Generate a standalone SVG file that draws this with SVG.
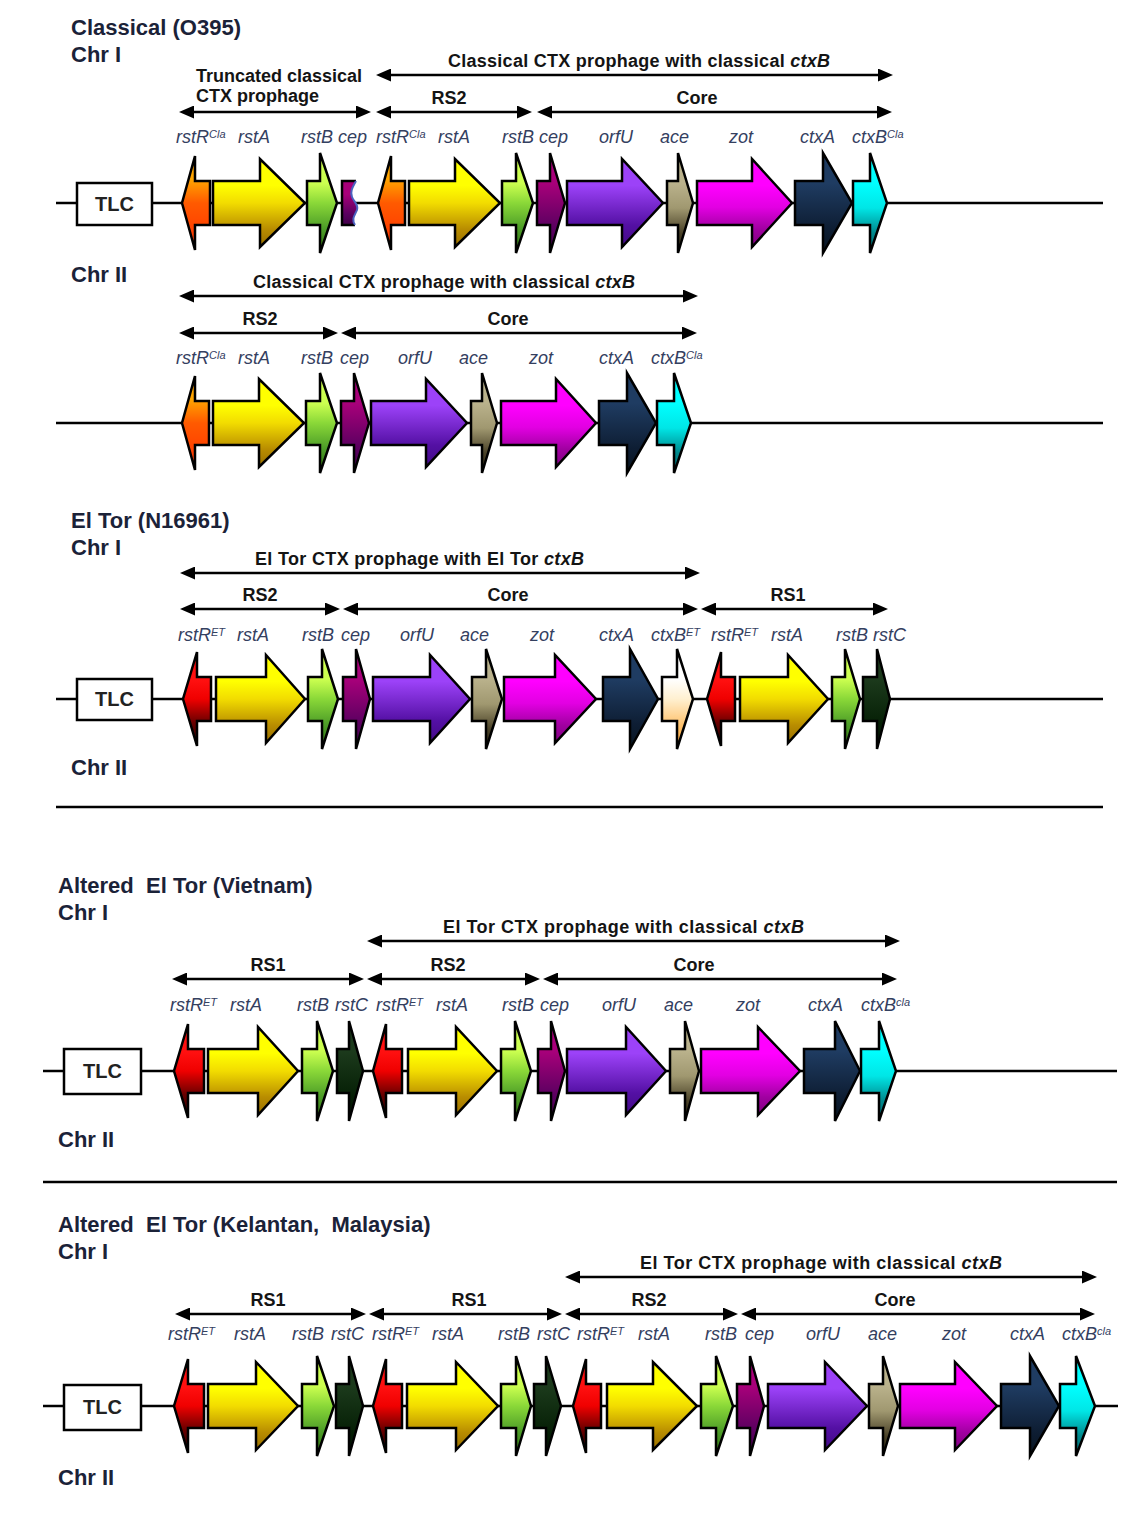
<svg xmlns="http://www.w3.org/2000/svg" width="1143" height="1516" viewBox="0 0 1143 1516">
<defs>
<style>
text{font-family:"Liberation Sans",Arial,sans-serif}
.t{font-weight:bold;font-size:22px;fill:#1b2238}
.r{font-weight:bold;font-size:18px;fill:#141414;text-anchor:middle}
.rl{font-weight:bold;font-size:18px;fill:#141414}
.g{font-style:italic;font-size:18px;fill:#34405f}
.s{font-size:11px}
.tlc{font-weight:bold;font-size:20px;fill:#222;text-anchor:middle}
.ln{stroke:#000;stroke-width:2.5;fill:none}
.sp{stroke:#000;stroke-width:2.5;fill:none;marker-start:url(#ah);marker-end:url(#ah)}
.gene path{stroke:#000;stroke-width:2.5;stroke-linejoin:miter}
.box{fill:#fff;stroke:#000;stroke-width:2.5}
.orR{fill:url(#gOr)}.red{fill:url(#gRed)}.yel{fill:url(#gYel)}.grn{fill:url(#gGrn)}
.cep{fill:url(#gCep)}.orf{fill:url(#gOrf)}.ace{fill:url(#gAce)}.zot{fill:url(#gZot)}
.cta{fill:url(#gCta)}.ctb{fill:url(#gCtb)}.cte{fill:url(#gCte)}.rsc{fill:url(#gRsc)}
</style>
<marker id="ah" viewBox="0 0 15 13" refX="7" refY="6.5" markerWidth="15" markerHeight="13" markerUnits="userSpaceOnUse" orient="auto-start-reverse">
<path d="M0,0L15,6.5L0,13Z" fill="#000"/>
</marker>
<linearGradient id="gOr" x1="0" y1="0" x2="0" y2="1"><stop offset="0.25" stop-color="#ffa400"/><stop offset="0.5" stop-color="#ff5a00"/><stop offset="1" stop-color="#ff3000"/></linearGradient>
<linearGradient id="gRed" x1="0" y1="0" x2="0" y2="1"><stop offset="0.3" stop-color="#ff1010"/><stop offset="0.5" stop-color="#f00000"/><stop offset="0.75" stop-color="#6a0000"/><stop offset="1" stop-color="#200000"/></linearGradient>
<linearGradient id="gYel" x1="0" y1="0" x2="0" y2="1"><stop offset="0.3" stop-color="#ffff00"/><stop offset="0.5" stop-color="#f2dc00"/><stop offset="0.8" stop-color="#b88c00"/><stop offset="1" stop-color="#9a7000"/></linearGradient>
<linearGradient id="gGrn" x1="0" y1="0" x2="0" y2="1"><stop offset="0.3" stop-color="#ccff50"/><stop offset="0.5" stop-color="#8ad838"/><stop offset="0.75" stop-color="#4e9e28"/><stop offset="1" stop-color="#2e7010"/></linearGradient>
<linearGradient id="gCep" x1="0" y1="0" x2="0" y2="1"><stop offset="0.3" stop-color="#a8007a"/><stop offset="0.75" stop-color="#5a0060"/><stop offset="1" stop-color="#400048"/></linearGradient>
<linearGradient id="gOrf" x1="0" y1="0" x2="0" y2="1"><stop offset="0.3" stop-color="#9c42f8"/><stop offset="0.75" stop-color="#5410a4"/><stop offset="1" stop-color="#420a86"/></linearGradient>
<linearGradient id="gAce" x1="0" y1="0" x2="0" y2="1"><stop offset="0.3" stop-color="#bab28c"/><stop offset="0.55" stop-color="#a09870"/><stop offset="0.8" stop-color="#4a4228"/><stop offset="1" stop-color="#2a2410"/></linearGradient>
<linearGradient id="gZot" x1="0" y1="0" x2="0" y2="1"><stop offset="0.3" stop-color="#ff00ff"/><stop offset="0.55" stop-color="#e200e2"/><stop offset="0.8" stop-color="#a000a0"/><stop offset="1" stop-color="#800080"/></linearGradient>
<linearGradient id="gCta" x1="0" y1="0" x2="0" y2="1"><stop offset="0.3" stop-color="#1f3c62"/><stop offset="0.75" stop-color="#0e1e34"/><stop offset="1" stop-color="#081420"/></linearGradient>
<linearGradient id="gCtb" x1="0" y1="0" x2="0" y2="1"><stop offset="0.3" stop-color="#00ffff"/><stop offset="0.55" stop-color="#00e6e6"/><stop offset="0.8" stop-color="#00888c"/><stop offset="1" stop-color="#006a70"/></linearGradient>
<linearGradient id="gCte" x1="0" y1="0" x2="0" y2="1"><stop offset="0.3" stop-color="#ffffff"/><stop offset="0.5" stop-color="#fff0d0"/><stop offset="0.8" stop-color="#ffbc60"/><stop offset="1" stop-color="#ffa840"/></linearGradient>
<linearGradient id="gRsc" x1="0" y1="0" x2="0" y2="1"><stop offset="0.3" stop-color="#1c3a1c"/><stop offset="0.75" stop-color="#062006"/><stop offset="1" stop-color="#001000"/></linearGradient>
</defs>
<rect width="1143" height="1516" fill="#fff"/>

<!-- ======= titles ======= -->
<g id="titles">
<text class="t" x="71" y="35" xml:space="preserve">Classical (O395)</text>
<text class="t" x="71" y="62">Chr I</text>
<text class="t" x="71" y="282">Chr II</text>
<text class="t" x="71" y="528">El Tor (N16961)</text>
<text class="t" x="71" y="555">Chr I</text>
<text class="t" x="71" y="775">Chr II</text>
<text class="t" x="58" y="893" xml:space="preserve">Altered  El Tor (Vietnam)</text>
<text class="t" x="58" y="920">Chr I</text>
<text class="t" x="58" y="1147">Chr II</text>
<text class="t" x="58" y="1232" xml:space="preserve">Altered  El Tor (Kelantan,  Malaysia)</text>
<text class="t" x="58" y="1259">Chr I</text>
<text class="t" x="58" y="1485">Chr II</text>
</g>

<!-- ======= connectors: genome lines, separators, span arrows ======= -->
<g id="connectors">
<path class="ln" d="M56,203H1103M56,423H1103M56,699H1103M43,1071H1117M43,1406H1118"/>
<path class="ln" d="M56,807H1103M43,1182H1117"/>
<line class="sp" x1="384" y1="75" x2="885" y2="75"/>
<line class="sp" x1="187" y1="112" x2="363" y2="112"/>
<line class="sp" x1="384" y1="112" x2="524" y2="112"/>
<line class="sp" x1="545" y1="112" x2="884" y2="112"/>
<line class="sp" x1="187" y1="296" x2="690" y2="296"/>
<line class="sp" x1="187" y1="333" x2="330" y2="333"/>
<line class="sp" x1="349" y1="333" x2="689" y2="333"/>
<line class="sp" x1="188" y1="573" x2="692" y2="573"/>
<line class="sp" x1="188" y1="609" x2="332" y2="609"/>
<line class="sp" x1="351" y1="609" x2="690" y2="609"/>
<line class="sp" x1="709" y1="609" x2="880" y2="609"/>
<line class="sp" x1="375" y1="941" x2="892" y2="941"/>
<line class="sp" x1="180" y1="979" x2="356" y2="979"/>
<line class="sp" x1="375" y1="979" x2="532" y2="979"/>
<line class="sp" x1="551" y1="979" x2="889" y2="979"/>
<line class="sp" x1="573" y1="1277" x2="1089" y2="1277"/>
<line class="sp" x1="183" y1="1314" x2="358" y2="1314"/>
<line class="sp" x1="377" y1="1314" x2="554" y2="1314"/>
<line class="sp" x1="573" y1="1314" x2="730" y2="1314"/>
<line class="sp" x1="749" y1="1314" x2="1087" y2="1314"/>
</g>

<!-- ======= span labels ======= -->
<g id="span-labels">
<text class="rl" x="448" y="67" textLength="382">Classical CTX prophage with classical <tspan font-style="italic">ctxB</tspan></text>
<text class="rl" x="196" y="82">Truncated classical</text>
<text class="rl" x="196" y="102">CTX prophage</text>
<text class="r" x="449" y="104">RS2</text>
<text class="r" x="697" y="104">Core</text>
<text class="rl" x="253" y="288" textLength="382">Classical CTX prophage with classical <tspan font-style="italic">ctxB</tspan></text>
<text class="r" x="260" y="325">RS2</text>
<text class="r" x="508" y="325">Core</text>
<text class="rl" x="255" y="565" textLength="329">El Tor CTX prophage with El Tor <tspan font-style="italic">ctxB</tspan></text>
<text class="r" x="260" y="601">RS2</text>
<text class="r" x="508" y="601">Core</text>
<text class="r" x="788" y="601">RS1</text>
<text class="rl" x="443" y="933" textLength="361">El Tor CTX prophage with classical <tspan font-style="italic">ctxB</tspan></text>
<text class="r" x="268" y="971">RS1</text>
<text class="r" x="448" y="971">RS2</text>
<text class="r" x="694" y="971">Core</text>
<text class="rl" x="640" y="1269" textLength="362">El Tor CTX prophage with classical <tspan font-style="italic">ctxB</tspan></text>
<text class="r" x="268" y="1306">RS1</text>
<text class="r" x="469" y="1306">RS1</text>
<text class="r" x="649" y="1306">RS2</text>
<text class="r" x="895" y="1306">Core</text>
</g>

<!-- ======= gene labels ======= -->
<g id="gene-labels">
<text class="g" x="176" y="143">rstR<tspan class="s" dy="-5">Cla</tspan></text>
<text class="g" x="238" y="143">rstA</text>
<text class="g" x="301" y="143">rstB</text>
<text class="g" x="338" y="143">cep</text>
<text class="g" x="376" y="143">rstR<tspan class="s" dy="-5">Cla</tspan></text>
<text class="g" x="438" y="143">rstA</text>
<text class="g" x="502" y="143">rstB</text>
<text class="g" x="539" y="143">cep</text>
<text class="g" x="599" y="143">orfU</text>
<text class="g" x="660" y="143">ace</text>
<text class="g" x="729" y="143">zot</text>
<text class="g" x="800" y="143">ctxA</text>
<text class="g" x="852" y="143">ctxB<tspan class="s" dy="-5">Cla</tspan></text>

<text class="g" x="176" y="364">rstR<tspan class="s" dy="-5">Cla</tspan></text>
<text class="g" x="238" y="364">rstA</text>
<text class="g" x="301" y="364">rstB</text>
<text class="g" x="340" y="364">cep</text>
<text class="g" x="398" y="364">orfU</text>
<text class="g" x="459" y="364">ace</text>
<text class="g" x="529" y="364">zot</text>
<text class="g" x="599" y="364">ctxA</text>
<text class="g" x="651" y="364">ctxB<tspan class="s" dy="-5">Cla</tspan></text>

<text class="g" x="178" y="641">rstR<tspan class="s" dy="-5">ET</tspan></text>
<text class="g" x="237" y="641">rstA</text>
<text class="g" x="302" y="641">rstB</text>
<text class="g" x="341" y="641">cep</text>
<text class="g" x="400" y="641">orfU</text>
<text class="g" x="460" y="641">ace</text>
<text class="g" x="530" y="641">zot</text>
<text class="g" x="599" y="641">ctxA</text>
<text class="g" x="651" y="641">ctxB<tspan class="s" dy="-5">ET</tspan></text>
<text class="g" x="711" y="641">rstR<tspan class="s" dy="-5">ET</tspan></text>
<text class="g" x="771" y="641">rstA</text>
<text class="g" x="836" y="641">rstB</text>
<text class="g" x="873" y="641">rstC</text>

<text class="g" x="170" y="1011">rstR<tspan class="s" dy="-5">ET</tspan></text>
<text class="g" x="230" y="1011">rstA</text>
<text class="g" x="297" y="1011">rstB</text>
<text class="g" x="335" y="1011">rstC</text>
<text class="g" x="376" y="1011">rstR<tspan class="s" dy="-5">ET</tspan></text>
<text class="g" x="436" y="1011">rstA</text>
<text class="g" x="502" y="1011">rstB</text>
<text class="g" x="540" y="1011">cep</text>
<text class="g" x="602" y="1011">orfU</text>
<text class="g" x="664" y="1011">ace</text>
<text class="g" x="736" y="1011">zot</text>
<text class="g" x="808" y="1011">ctxA</text>
<text class="g" x="861" y="1011">ctxB<tspan class="s" dy="-5">cla</tspan></text>

<text class="g" x="168" y="1340">rstR<tspan class="s" dy="-5">ET</tspan></text>
<text class="g" x="234" y="1340">rstA</text>
<text class="g" x="292" y="1340">rstB</text>
<text class="g" x="331" y="1340">rstC</text>
<text class="g" x="372" y="1340">rstR<tspan class="s" dy="-5">ET</tspan></text>
<text class="g" x="432" y="1340">rstA</text>
<text class="g" x="498" y="1340">rstB</text>
<text class="g" x="537" y="1340">rstC</text>
<text class="g" x="577" y="1340">rstR<tspan class="s" dy="-5">ET</tspan></text>
<text class="g" x="638" y="1340">rstA</text>
<text class="g" x="705" y="1340">rstB</text>
<text class="g" x="745" y="1340">cep</text>
<text class="g" x="806" y="1340">orfU</text>
<text class="g" x="868" y="1340">ace</text>
<text class="g" x="942" y="1340">zot</text>
<text class="g" x="1010" y="1340">ctxA</text>
<text class="g" x="1062" y="1340">ctxB<tspan class="s" dy="-5">cla</tspan></text>
</g>

<!-- ======= TLC boxes ======= -->
<g id="tlc1"><rect class="box" x="77" y="183" width="75" height="42"/><text class="tlc" x="114.5" y="211">TLC</text></g>
<g id="tlc2"><rect class="box" x="77" y="679" width="75" height="41"/><text class="tlc" x="114.5" y="706">TLC</text></g>
<g id="tlc3"><rect class="box" x="64" y="1049" width="77" height="45"/><text class="tlc" x="102.5" y="1078">TLC</text></g>
<g id="tlc4"><rect class="box" x="64" y="1385" width="77" height="45"/><text class="tlc" x="102.5" y="1414">TLC</text></g>

<!-- ======= genes: Classical Chr I ======= -->
<g id="c1-rstR" class="gene"><path class="orR" d="M210,181H195V156L182,203L195,250V225H210Z"/></g>
<g id="c1-rstA" class="gene"><path class="yel" d="M213,181H260V159L305,203L260,247V225H213Z"/></g>
<g id="c1-rstB" class="gene"><path class="grn" d="M307,181H320V153L337,203L320,253V225H307Z"/></g>
<g id="c1-cep-trunc"><path class="cep" d="M342,181H356C352,188 350,192 352,197C354,202 359,205 357,210C355,215 351,219 355,225H342Z"/><path d="M356,181H342V225H355" fill="none" stroke="#000" stroke-width="2.5"/><path d="M356,181C352,188 350,192 352,197C354,202 359,205 357,210C355,215 351,219 355,225" fill="none" stroke="#4a62c0" stroke-width="2"/></g>
<g id="c1-rstR2" class="gene"><path class="orR" d="M405,181H391V156L378,203L391,250V225H405Z"/></g>
<g id="c1-rstA2" class="gene"><path class="yel" d="M409,181H455V159L500,203L455,247V225H409Z"/></g>
<g id="c1-rstB2" class="gene"><path class="grn" d="M502,181H516V153L533,203L516,253V225H502Z"/></g>
<g id="c1-cep" class="gene"><path class="cep" d="M537,181H550V153L565,203L550,253V225H537Z"/></g>
<g id="c1-orfU" class="gene"><path class="orf" d="M567,181H622V159L663,203L622,247V225H567Z"/></g>
<g id="c1-ace" class="gene"><path class="ace" d="M667,181H678V153L693,203L678,253V225H667Z"/></g>
<g id="c1-zot" class="gene"><path class="zot" d="M697,181H752V159L792,203L752,247V225H697Z"/></g>
<g id="c1-ctxA" class="gene"><path class="cta" d="M795,181H823V153L852,203L823,253V225H795Z"/></g>
<g id="c1-ctxB" class="gene"><path class="ctb" d="M853,181H870V153L887,203L870,253V225H853Z"/></g>

<!-- ======= genes: Classical Chr II ======= -->
<g id="c2-rstR" class="gene"><path class="orR" d="M209,401H195V376L182,423L195,470V445H209Z"/></g>
<g id="c2-rstA" class="gene"><path class="yel" d="M213,401H259V379L304,423L259,467V445H213Z"/></g>
<g id="c2-rstB" class="gene"><path class="grn" d="M306,401H320V373L337,423L320,473V445H306Z"/></g>
<g id="c2-cep" class="gene"><path class="cep" d="M341,401H354V373L369,423L354,473V445H341Z"/></g>
<g id="c2-orfU" class="gene"><path class="orf" d="M371,401H426V379L467,423L426,467V445H371Z"/></g>
<g id="c2-ace" class="gene"><path class="ace" d="M471,401H482V373L497,423L482,473V445H471Z"/></g>
<g id="c2-zot" class="gene"><path class="zot" d="M501,401H556V379L596,423L556,467V445H501Z"/></g>
<g id="c2-ctxA" class="gene"><path class="cta" d="M599,401H627V373L656,423L627,473V445H599Z"/></g>
<g id="c2-ctxB" class="gene"><path class="ctb" d="M657,401H674V373L691,423L674,473V445H657Z"/></g>

<!-- ======= genes: El Tor ======= -->
<g id="e-rstR" class="gene"><path class="red" d="M211,677H197V652L183,699L197,746V721H211Z"/></g>
<g id="e-rstA" class="gene"><path class="yel" d="M216,677H266V655L305,699L266,743V721H216Z"/></g>
<g id="e-rstB" class="gene"><path class="grn" d="M308,677H322V649L338,699L322,749V721H308Z"/></g>
<g id="e-cep" class="gene"><path class="cep" d="M343,677H356V649L370,699L356,749V721H343Z"/></g>
<g id="e-orfU" class="gene"><path class="orf" d="M373,677H430V655L470,699L430,743V721H373Z"/></g>
<g id="e-ace" class="gene"><path class="ace" d="M472,677H486V649L502,699L486,749V721H472Z"/></g>
<g id="e-zot" class="gene"><path class="zot" d="M504,677H555V655L596,699L555,743V721H504Z"/></g>
<g id="e-ctxA" class="gene"><path class="cta" d="M603,677H630V649L658,699L630,749V721H603Z"/></g>
<g id="e-ctxB" class="gene"><path class="cte" d="M662,677H677V649L693,699L677,749V721H662Z"/></g>
<g id="e-rstR2" class="gene"><path class="red" d="M735,677H721V652L707,699L721,746V721H735Z"/></g>
<g id="e-rstA2" class="gene"><path class="yel" d="M740,677H788V655L828,699L788,743V721H740Z"/></g>
<g id="e-rstB2" class="gene"><path class="grn" d="M832,677H845V649L860,699L845,749V721H832Z"/></g>
<g id="e-rstC" class="gene"><path class="rsc" d="M863,677H877V649L890,699L877,749V721H863Z"/></g>

<!-- ======= genes: Vietnam ======= -->
<g id="v-rstR" class="gene"><path class="red" d="M204,1049H188V1024L174,1071L188,1118V1093H204Z"/></g>
<g id="v-rstA" class="gene"><path class="yel" d="M208,1049H258V1027L298,1071L258,1115V1093H208Z"/></g>
<g id="v-rstB" class="gene"><path class="grn" d="M302,1049H317V1021L333,1071L317,1121V1093H302Z"/></g>
<g id="v-rstC" class="gene"><path class="rsc" d="M337,1049H349V1021L363,1071L349,1121V1093H337Z"/></g>
<g id="v-rstR2" class="gene"><path class="red" d="M402,1049H386V1024L373,1071L386,1118V1093H402Z"/></g>
<g id="v-rstA2" class="gene"><path class="yel" d="M408,1049H456V1027L497,1071L456,1115V1093H408Z"/></g>
<g id="v-rstB2" class="gene"><path class="grn" d="M501,1049H515V1021L531,1071L515,1121V1093H501Z"/></g>
<g id="v-cep" class="gene"><path class="cep" d="M538,1049H551V1021L565,1071L551,1121V1093H538Z"/></g>
<g id="v-orfU" class="gene"><path class="orf" d="M567,1049H626V1027L666,1071L626,1115V1093H567Z"/></g>
<g id="v-ace" class="gene"><path class="ace" d="M670,1049H685V1021L699,1071L685,1121V1093H670Z"/></g>
<g id="v-zot" class="gene"><path class="zot" d="M701,1049H758V1027L800,1071L758,1115V1093H701Z"/></g>
<g id="v-ctxA" class="gene"><path class="cta" d="M804,1049H835V1021L860,1071L835,1121V1093H804Z"/></g>
<g id="v-ctxB" class="gene"><path class="ctb" d="M861,1049H879V1021L896,1071L879,1121V1093H861Z"/></g>

<!-- ======= genes: Kelantan ======= -->
<g id="k-rstR" class="gene"><path class="red" d="M204,1384H188V1359L174,1406L188,1453V1428H204Z"/></g>
<g id="k-rstA" class="gene"><path class="yel" d="M208,1384H256V1362L298,1406L256,1450V1428H208Z"/></g>
<g id="k-rstB" class="gene"><path class="grn" d="M302,1384H317V1356L334,1406L317,1456V1428H302Z"/></g>
<g id="k-rstC" class="gene"><path class="rsc" d="M336,1384H349V1356L363,1406L349,1456V1428H336Z"/></g>
<g id="k-rstR2" class="gene"><path class="red" d="M402,1384H386V1359L373,1406L386,1453V1428H402Z"/></g>
<g id="k-rstA2" class="gene"><path class="yel" d="M407,1384H456V1362L498,1406L456,1450V1428H407Z"/></g>
<g id="k-rstB2" class="gene"><path class="grn" d="M501,1384H516V1356L531,1406L516,1456V1428H501Z"/></g>
<g id="k-rstC2" class="gene"><path class="rsc" d="M534,1384H546V1356L561,1406L546,1456V1428H534Z"/></g>
<g id="k-rstR3" class="gene"><path class="red" d="M601,1384H586V1359L573,1406L586,1453V1428H601Z"/></g>
<g id="k-rstA3" class="gene"><path class="yel" d="M607,1384H653V1362L697,1406L653,1450V1428H607Z"/></g>
<g id="k-rstB3" class="gene"><path class="grn" d="M701,1384H716V1356L733,1406L716,1456V1428H701Z"/></g>
<g id="k-cep" class="gene"><path class="cep" d="M737,1384H750V1356L764,1406L750,1456V1428H737Z"/></g>
<g id="k-orfU" class="gene"><path class="orf" d="M768,1384H825V1362L867,1406L825,1450V1428H768Z"/></g>
<g id="k-ace" class="gene"><path class="ace" d="M869,1384H883V1356L898,1406L883,1456V1428H869Z"/></g>
<g id="k-zot" class="gene"><path class="zot" d="M900,1384H955V1362L997,1406L955,1450V1428H900Z"/></g>
<g id="k-ctxA" class="gene"><path class="cta" d="M1001,1384H1030V1356L1059,1406L1030,1456V1428H1001Z"/></g>
<g id="k-ctxB" class="gene"><path class="ctb" d="M1060,1384H1076V1356L1095,1406L1076,1456V1428H1060Z"/></g>
</svg>
